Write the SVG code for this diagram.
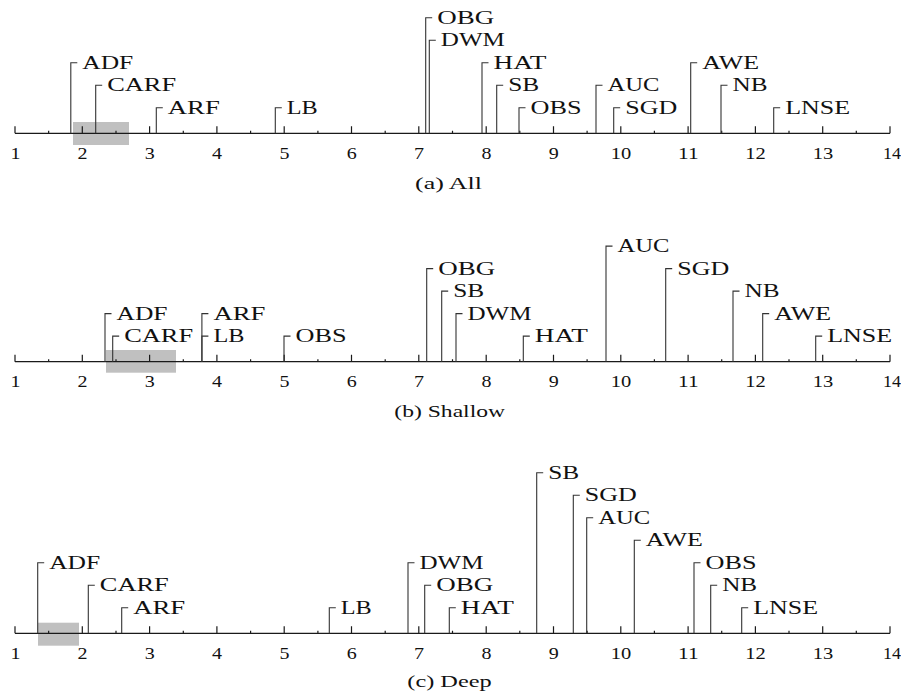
<svg xmlns="http://www.w3.org/2000/svg" xmlns:xlink="http://www.w3.org/1999/xlink" width="901" height="700" viewBox="0 0 901 700">
<style>
.bg{fill:#ffffff}
.hl{fill:#c0c0c0}
.ax{fill:none;stroke:#1a1a1a;stroke-width:1.2}
.br{fill:none;stroke:#333333;stroke-width:1.1}
.lb{font-family:"Liberation Serif","Times New Roman",serif;font-size:18px;fill:#111111}
.tk{font-family:"Liberation Serif","Times New Roman",serif;font-size:16px;fill:#111111;text-anchor:middle}
.cap{font-family:"Liberation Serif","Times New Roman",serif;font-size:17px;fill:#111111;text-anchor:middle}
</style>
<defs>
<path id="axis" class="ax" d="M15 0H890 M15 0V-7 M82.3 0V-7 M149.6 0V-7 M216.9 0V-7 M284.2 0V-7 M351.5 0V-7 M418.8 0V-7 M486.2 0V-7 M553.5 0V-7 M620.8 0V-7 M688.1 0V-7 M755.4 0V-7 M822.7 0V-7 M890 0V-7 M48.65 0V-2.5 M116 0V-2.5 M183.3 0V-2.5 M250.6 0V-2.5 M317.9 0V-2.5 M385.2 0V-2.5 M452.5 0V-2.5 M519.8 0V-2.5 M587.1 0V-2.5 M654.4 0V-2.5 M721.7 0V-2.5 M789 0V-2.5 M856.3 0V-2.5"/>
<g id="ticks">
<text class="tk" x="15.5" y="25.5" textLength="10" lengthAdjust="spacingAndGlyphs">1</text>
<text class="tk" x="82.5" y="25.5" textLength="10" lengthAdjust="spacingAndGlyphs">2</text>
<text class="tk" x="149.8" y="25.5" textLength="10" lengthAdjust="spacingAndGlyphs">3</text>
<text class="tk" x="217.1" y="25.5" textLength="10" lengthAdjust="spacingAndGlyphs">4</text>
<text class="tk" x="284.4" y="25.5" textLength="10" lengthAdjust="spacingAndGlyphs">5</text>
<text class="tk" x="351.7" y="25.5" textLength="10" lengthAdjust="spacingAndGlyphs">6</text>
<text class="tk" x="419" y="25.5" textLength="10" lengthAdjust="spacingAndGlyphs">7</text>
<text class="tk" x="486.4" y="25.5" textLength="10" lengthAdjust="spacingAndGlyphs">8</text>
<text class="tk" x="553.7" y="25.5" textLength="10" lengthAdjust="spacingAndGlyphs">9</text>
<text class="tk" x="621" y="25.5" textLength="20.5" lengthAdjust="spacingAndGlyphs">10</text>
<text class="tk" x="688.3" y="25.5" textLength="20.5" lengthAdjust="spacingAndGlyphs">11</text>
<text class="tk" x="755.6" y="25.5" textLength="20.5" lengthAdjust="spacingAndGlyphs">12</text>
<text class="tk" x="822.9" y="25.5" textLength="20.5" lengthAdjust="spacingAndGlyphs">13</text>
<text class="tk" x="892" y="25.5" textLength="18" lengthAdjust="spacingAndGlyphs">14</text>
</g>
</defs>
<rect class="bg" x="0" y="0" width="901" height="700"/>

<!-- Panel (a) All -->
<g id="panel-a">
<rect class="hl" x="73" y="122" width="56" height="23"/>
<use xlink:href="#axis" href="#axis" transform="translate(0,133.3)"/>
<use xlink:href="#ticks" href="#ticks" transform="translate(0,133.3)"/>
<g id="connectors-a">
<path class="br" d="M70.8 133.3V62.7h6.5"/>
<path class="br" d="M95.7 133.3V85.2h6.5"/>
<path class="br" d="M156.3 133.3V107.7h6.5"/>
<path class="br" d="M275.3 133.3V107.7h6.5"/>
<path class="br" d="M425.7 133.3V17.7h6.5"/>
<path class="br" d="M429.3 133.3V40.2h6.5"/>
<path class="br" d="M482 133.3V62.7h6.5"/>
<path class="br" d="M496.7 133.3V85.2h6.5"/>
<path class="br" d="M519 133.3V107.7h6.5"/>
<path class="br" d="M596 133.3V85.2h6.5"/>
<path class="br" d="M613.7 133.3V107.7h6.5"/>
<path class="br" d="M690.7 133.3V62.7h6.5"/>
<path class="br" d="M721 133.3V85.2h6.5"/>
<path class="br" d="M773.7 133.3V107.7h6.5"/>
</g>
<g id="a-ADF"><text class="lb" x="82.3" y="68.7" textLength="51" lengthAdjust="spacingAndGlyphs">ADF</text></g>
<g id="a-CARF"><text class="lb" x="107.2" y="91.2" textLength="69" lengthAdjust="spacingAndGlyphs">CARF</text></g>
<g id="a-ARF"><text class="lb" x="167.8" y="113.7" textLength="52" lengthAdjust="spacingAndGlyphs">ARF</text></g>
<g id="a-LB"><text class="lb" x="286.8" y="113.7" textLength="31" lengthAdjust="spacingAndGlyphs">LB</text></g>
<g id="a-OBG"><text class="lb" x="437.2" y="23.7" textLength="57" lengthAdjust="spacingAndGlyphs">OBG</text></g>
<g id="a-DWM"><text class="lb" x="440.8" y="46.2" textLength="64" lengthAdjust="spacingAndGlyphs">DWM</text></g>
<g id="a-HAT"><text class="lb" x="493.5" y="68.7" textLength="53" lengthAdjust="spacingAndGlyphs">HAT</text></g>
<g id="a-SB"><text class="lb" x="508.2" y="91.2" textLength="31" lengthAdjust="spacingAndGlyphs">SB</text></g>
<g id="a-OBS"><text class="lb" x="530.5" y="113.7" textLength="51" lengthAdjust="spacingAndGlyphs">OBS</text></g>
<g id="a-AUC"><text class="lb" x="607.5" y="91.2" textLength="52" lengthAdjust="spacingAndGlyphs">AUC</text></g>
<g id="a-SGD"><text class="lb" x="625.2" y="113.7" textLength="52" lengthAdjust="spacingAndGlyphs">SGD</text></g>
<g id="a-AWE"><text class="lb" x="702.2" y="68.7" textLength="57" lengthAdjust="spacingAndGlyphs">AWE</text></g>
<g id="a-NB"><text class="lb" x="732.5" y="91.2" textLength="35" lengthAdjust="spacingAndGlyphs">NB</text></g>
<g id="a-LNSE"><text class="lb" x="785.2" y="113.7" textLength="65" lengthAdjust="spacingAndGlyphs">LNSE</text></g>
<text class="cap" x="448.5" y="189" textLength="67" lengthAdjust="spacingAndGlyphs">(a) All</text>
</g>

<!-- Panel (b) Shallow -->
<g id="panel-b">
<rect class="hl" x="106" y="350" width="70" height="22.7"/>
<use xlink:href="#axis" href="#axis" transform="translate(0,361.7)"/>
<use xlink:href="#ticks" href="#ticks" transform="translate(0,361.7)"/>
<g id="connectors-b">
<path class="br" d="M105 361.7V313.6h6.5"/>
<path class="br" d="M112.7 361.7V336.1h6.5"/>
<path class="br" d="M201.9 361.7V313.6h6.5"/>
<path class="br" d="M201.9 361.7V336.1h6.5"/>
<path class="br" d="M284 361.7V336.1h6.5"/>
<path class="br" d="M426.7 361.7V268.6h6.5"/>
<path class="br" d="M441.7 361.7V291.1h6.5"/>
<path class="br" d="M456 361.7V313.6h6.5"/>
<path class="br" d="M523.3 361.7V336.1h6.5"/>
<path class="br" d="M606 361.7V246.1h6.5"/>
<path class="br" d="M665.7 361.7V268.6h6.5"/>
<path class="br" d="M733 361.7V291.1h6.5"/>
<path class="br" d="M762.7 361.7V313.6h6.5"/>
<path class="br" d="M815.7 361.7V336.1h6.5"/>
</g>
<g id="b-ADF"><text class="lb" x="116.5" y="319.6" textLength="51" lengthAdjust="spacingAndGlyphs">ADF</text></g>
<g id="b-CARF"><text class="lb" x="124.2" y="342.1" textLength="69" lengthAdjust="spacingAndGlyphs">CARF</text></g>
<g id="b-ARF"><text class="lb" x="213.4" y="319.6" textLength="52" lengthAdjust="spacingAndGlyphs">ARF</text></g>
<g id="b-LB"><text class="lb" x="213.4" y="342.1" textLength="31" lengthAdjust="spacingAndGlyphs">LB</text></g>
<g id="b-OBS"><text class="lb" x="295.5" y="342.1" textLength="51" lengthAdjust="spacingAndGlyphs">OBS</text></g>
<g id="b-OBG"><text class="lb" x="438.2" y="274.6" textLength="57" lengthAdjust="spacingAndGlyphs">OBG</text></g>
<g id="b-SB"><text class="lb" x="453.2" y="297.1" textLength="31" lengthAdjust="spacingAndGlyphs">SB</text></g>
<g id="b-DWM"><text class="lb" x="467.5" y="319.6" textLength="64" lengthAdjust="spacingAndGlyphs">DWM</text></g>
<g id="b-HAT"><text class="lb" x="534.8" y="342.1" textLength="53" lengthAdjust="spacingAndGlyphs">HAT</text></g>
<g id="b-AUC"><text class="lb" x="617.5" y="252.1" textLength="52" lengthAdjust="spacingAndGlyphs">AUC</text></g>
<g id="b-SGD"><text class="lb" x="677.2" y="274.6" textLength="52" lengthAdjust="spacingAndGlyphs">SGD</text></g>
<g id="b-NB"><text class="lb" x="744.5" y="297.1" textLength="35" lengthAdjust="spacingAndGlyphs">NB</text></g>
<g id="b-AWE"><text class="lb" x="774.2" y="319.6" textLength="57" lengthAdjust="spacingAndGlyphs">AWE</text></g>
<g id="b-LNSE"><text class="lb" x="827.2" y="342.1" textLength="65" lengthAdjust="spacingAndGlyphs">LNSE</text></g>
<text class="cap" x="449.7" y="417" textLength="110.7" lengthAdjust="spacingAndGlyphs">(b) Shallow</text>
</g>

<!-- Panel (c) Deep -->
<g id="panel-c">
<rect class="hl" x="38" y="622.7" width="41" height="23"/>
<use xlink:href="#axis" href="#axis" transform="translate(0,633.3)"/>
<use xlink:href="#ticks" href="#ticks" transform="translate(0,633.3)"/>
<g id="connectors-c">
<path class="br" d="M37.7 633.3V562.7h6.5"/>
<path class="br" d="M88.3 633.3V585.2h6.5"/>
<path class="br" d="M121.7 633.3V607.7h6.5"/>
<path class="br" d="M329.3 633.3V607.7h6.5"/>
<path class="br" d="M408 633.3V562.7h6.5"/>
<path class="br" d="M424.7 633.3V585.2h6.5"/>
<path class="br" d="M449.3 633.3V607.7h6.5"/>
<path class="br" d="M536.7 633.3V472.7h6.5"/>
<path class="br" d="M573.3 633.3V495.2h6.5"/>
<path class="br" d="M586.7 633.3V517.7h6.5"/>
<path class="br" d="M634.3 633.3V540.2h6.5"/>
<path class="br" d="M694 633.3V562.7h6.5"/>
<path class="br" d="M710.7 633.3V585.2h6.5"/>
<path class="br" d="M741.7 633.3V607.7h6.5"/>
</g>
<g id="c-ADF"><text class="lb" x="49.2" y="568.7" textLength="51" lengthAdjust="spacingAndGlyphs">ADF</text></g>
<g id="c-CARF"><text class="lb" x="99.8" y="591.2" textLength="69" lengthAdjust="spacingAndGlyphs">CARF</text></g>
<g id="c-ARF"><text class="lb" x="133.2" y="613.7" textLength="52" lengthAdjust="spacingAndGlyphs">ARF</text></g>
<g id="c-LB"><text class="lb" x="340.8" y="613.7" textLength="31" lengthAdjust="spacingAndGlyphs">LB</text></g>
<g id="c-DWM"><text class="lb" x="419.5" y="568.7" textLength="64" lengthAdjust="spacingAndGlyphs">DWM</text></g>
<g id="c-OBG"><text class="lb" x="436.2" y="591.2" textLength="57" lengthAdjust="spacingAndGlyphs">OBG</text></g>
<g id="c-HAT"><text class="lb" x="460.8" y="613.7" textLength="53" lengthAdjust="spacingAndGlyphs">HAT</text></g>
<g id="c-SB"><text class="lb" x="548.2" y="478.7" textLength="31" lengthAdjust="spacingAndGlyphs">SB</text></g>
<g id="c-SGD"><text class="lb" x="584.8" y="501.2" textLength="52" lengthAdjust="spacingAndGlyphs">SGD</text></g>
<g id="c-AUC"><text class="lb" x="598.2" y="523.7" textLength="52" lengthAdjust="spacingAndGlyphs">AUC</text></g>
<g id="c-AWE"><text class="lb" x="645.8" y="546.2" textLength="57" lengthAdjust="spacingAndGlyphs">AWE</text></g>
<g id="c-OBS"><text class="lb" x="705.5" y="568.7" textLength="51" lengthAdjust="spacingAndGlyphs">OBS</text></g>
<g id="c-NB"><text class="lb" x="722.2" y="591.2" textLength="35" lengthAdjust="spacingAndGlyphs">NB</text></g>
<g id="c-LNSE"><text class="lb" x="753.2" y="613.7" textLength="65" lengthAdjust="spacingAndGlyphs">LNSE</text></g>
<text class="cap" x="449.5" y="687" textLength="84.4" lengthAdjust="spacingAndGlyphs">(c) Deep</text>
</g>
</svg>
